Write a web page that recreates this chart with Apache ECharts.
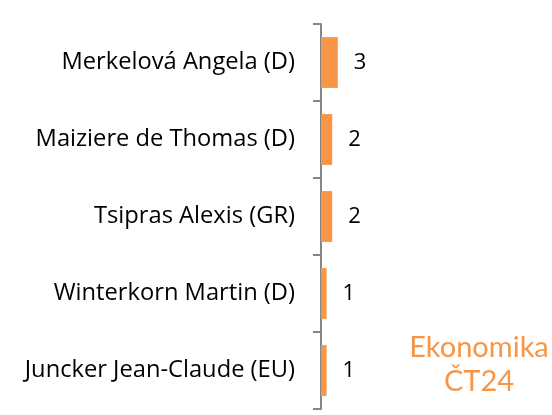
<!DOCTYPE html>
<html>
<head>
<meta charset="utf-8">
<script src="https://cdn.jsdelivr.net/npm/echarts@6/dist/echarts.min.js"></script>
<style>
  html, body { margin: 0; padding: 0; background: #fff; }
  #main { width: 552px; height: 415px; }
</style>
</head>
<body>
<div id="main"></div>
<script>
const categories = [
  'Merkelová Angela (D)',
  'Maiziere de Thomas (D)',
  'Tsipras Alexis (GR)',
  'Winterkorn Martin (D)',
  'Juncker Jean-Claude (EU)'
]
const values = [3, 2, 2, 1, 1]

const chart = echarts.init(document.getElementById('main'))

const option = {
  animation: false,
  grid: { left: 321, top: 24, bottom: 6, right: 7, containLabel: false },
  xAxis: {
    type: 'value',
    min: 0,
    max: 40,
    show: false
  },
  yAxis: {
    type: 'category',
    data: categories,
    inverse: true,
    axisLine: { show: true, lineStyle: { color: '#868686', width: 2 } },
    axisTick: { show: true, length: 8, lineStyle: { color: '#868686', width: 2 } },
    axisLabel: {
      color: '#000',
      fontFamily: 'Open Sans',
      fontSize: 23.7,
      margin: 26
    },
    splitLine: { show: false }
  },
  series: [
    {
      type: 'bar',
      data: values,
      barCategoryGap: '34%',
      itemStyle: { color: '#F79646' },
      label: {
        show: true,
        position: 'right',
        distance: 16,
        color: '#000',
        fontFamily: 'Open Sans',
        fontSize: 22
      }
    }
  ],
  graphic: [
    {
      type: 'text',
      x: 479,
      y: 331,
      style: {
        text: 'Ekonomika\nČT24',
        fill: '#F79646',
        font: '29px Lato',
        align: 'center',
        lineHeight: 34
      }
    }
  ]
}

chart.setOption(option)
</script>
</body>
</html>
